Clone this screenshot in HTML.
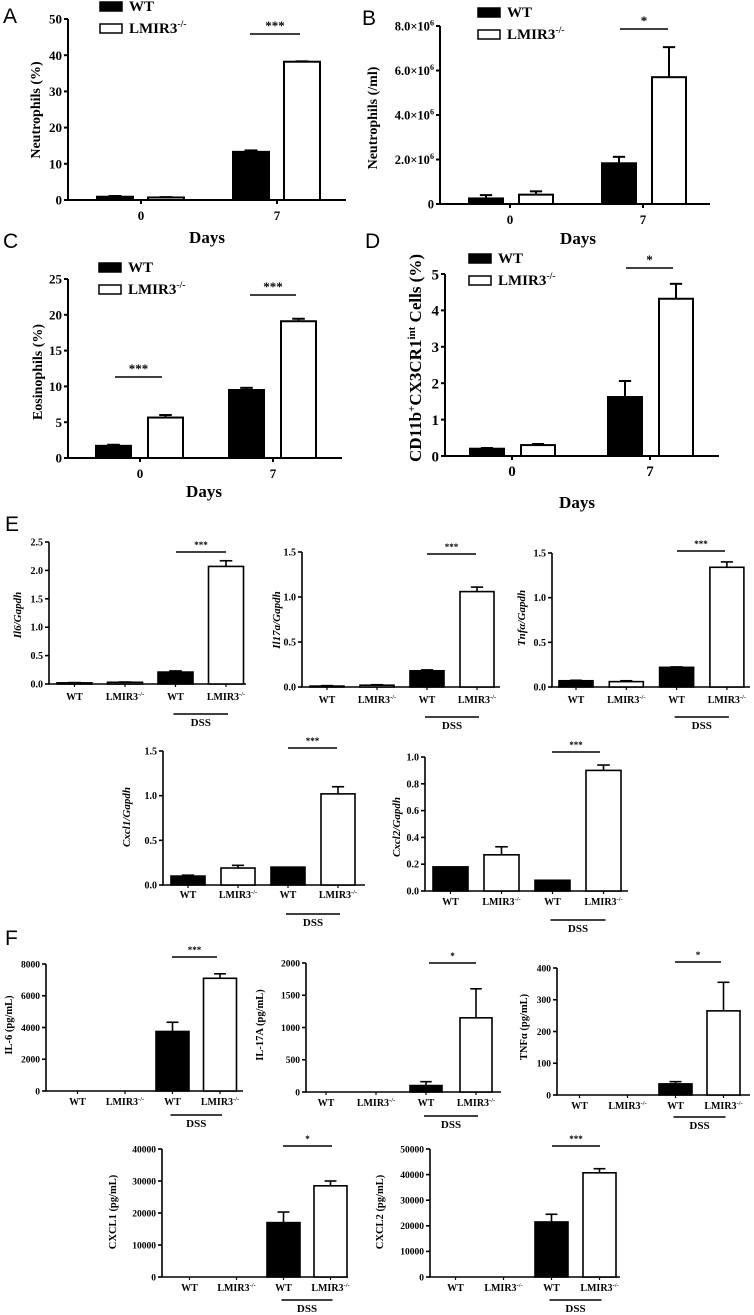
<!DOCTYPE html>
<html><head><meta charset="utf-8"><style>
html,body{margin:0;padding:0;background:#fff;}
svg{display:block;}
text{font-family:"Liberation Serif",serif;font-weight:bold;fill:#000;}
.pl{font-family:"Liberation Sans",sans-serif;font-weight:normal;font-size:21px;}
</style></head><body>
<svg id="fig" width="754" height="1315" viewBox="0 0 754 1315" xmlns="http://www.w3.org/2000/svg">
<text class="pl" x="3" y="23">A</text>
<text class="pl" x="362" y="25">B</text>
<text class="pl" x="3" y="248">C</text>
<text class="pl" x="365" y="248">D</text>
<text class="pl" x="5" y="531">E</text>
<text class="pl" x="5" y="945">F</text>
</svg>
<script>
// ---- data ----
const catsDays = ["0","7"];
const catsGeno = ["WT","LMIR3","WT","LMIR3"];
const ticksA = [0,10,20,30,40,50];
const valsA = [0.9,0.7,13.3,38.2];
const errsA = [1.1,0.8,13.7,38.3];
const ticksB = [0,2e6,4e6,6e6,8e6];
const tickLabelsB = ["0","2.0×10","4.0×10","6.0×10","8.0×10"];
const valsB = [0.25e6,0.42e6,1.83e6,5.7e6];
const errsB = [0.4e6,0.57e6,2.12e6,7.05e6];
const ticksC = [0,5,10,15,20,25];
const valsC = [1.7,5.65,9.5,19.1];
const errsC = [1.85,6.0,9.8,19.45];
const ticksD = [0,1,2,3,4,5];
const valsD = [0.2,0.3,1.62,4.32];
const errsD = [0.22,0.33,2.06,4.73];
const ticksE1 = [0,0.5,1.0,1.5,2.0,2.5];
const valsE1 = [0.02,0.03,0.21,2.07];
const errsE1 = [0.025,0.035,0.23,2.17];
const ticksE2 = [0,0.5,1.0,1.5];
const valsE2 = [0.01,0.02,0.18,1.06];
const errsE2 = [0.015,0.025,0.19,1.11];
const ticksE3 = [0,0.5,1.0,1.5];
const valsE3 = [0.07,0.06,0.22,1.34];
const errsE3 = [0.075,0.07,0.225,1.40];
const ticksE4 = [0,0.5,1.0,1.5];
const valsE4 = [0.1,0.19,0.2,1.02];
const errsE4 = [0.11,0.22,0.2,1.10];
const ticksE5 = [0,0.2,0.4,0.6,0.8,1.0];
const valsE5 = [0.18,0.27,0.08,0.90];
const errsE5 = [0.18,0.33,0.08,0.94];
const ticksF1 = [0,2000,4000,6000,8000];
const valsF1 = [0,0,3750,7100];
const errsF1 = [0,0,4330,7380];
const ticksF2 = [0,500,1000,1500,2000];
const valsF2 = [0,0,100,1150];
const errsF2 = [0,0,160,1600];
const ticksF3 = [0,100,200,300,400];
const valsF3 = [0,0,35,265];
const errsF3 = [0,0,42,355];
const ticksF4 = [0,10000,20000,30000,40000];
const valsF4 = [0,0,17000,28500];
const errsF4 = [0,0,20300,30000];
const ticksF5 = [0,10000,20000,30000,40000,50000];
const valsF5 = [0,0,21500,40700];
const errsF5 = [0,0,24500,42300];

// ---- drawing ----
const NS = "http://www.w3.org/2000/svg";
const svg = document.getElementById("fig");
function mk(tag, attrs, parent){
  const e = document.createElementNS(NS, tag);
  for (const k in attrs) e.setAttribute(k, attrs[k]);
  (parent||svg).appendChild(e);
  return e;
}
function sup(t, base, s, fs){
  t.appendChild(document.createTextNode(base));
  const ts = document.createElementNS(NS,"tspan");
  ts.setAttribute("dy", -fs*0.4);
  ts.setAttribute("font-size", fs*0.65);
  ts.textContent = s;
  t.appendChild(ts);
}
function panel(p){
  const g = mk("g", {});
  
  
  const yS = v => p.y0 - (v/p.max)*(p.y0-p.yTop);
  const sw = p.sw || 1.6;
  const xfs = p.xfs || p.tfs;
  const ya = mk("line",{x1:p.ax,y1:p.yTop,x2:p.ax,y2:p.y0,stroke:"#000","stroke-width":sw},g);
  
  
  const xa = mk("line",{x1:p.ax-1,y1:p.y0,x2:p.xEnd,y2:p.y0,stroke:"#000","stroke-width":sw},g);
  
  
  p.ticks.forEach((t,i)=>{
    const y = yS(t);
    mk("line",{x1:p.ax-4,y1:y,x2:p.ax,y2:y,stroke:"#000","stroke-width":sw},g);
    const tx = mk("text",{x:p.ax-6,y:y+p.tfs*0.35,"text-anchor":"end","font-size":p.tfs},g);
    
    
    if (p.tickLabels) { sup(tx, p.tickLabels[i], i===0?"":"6", p.tfs); }
    else tx.textContent = p.fmt ? p.fmt(t) : String(t);
  });
  p.vals.forEach((v,i)=>{
    const x = p.bx(i), y = yS(v);
    const r = mk("rect",{x:x,y:y,width:p.bw,height:Math.max(0,p.y0-y),fill:(i%2?"#fff":"#000"),stroke:"#000","stroke-width":sw},g);
    
    
    const e = p.errs[i];
    if (e > v) {
      const cx = x + p.bw/2, ye = yS(e);
      mk("line",{x1:cx,y1:y,x2:cx,y2:ye,stroke:"#000","stroke-width":sw},g);
      const cap = mk("line",{x1:cx-p.bw*0.18,y1:ye,x2:cx+p.bw*0.18,y2:ye,stroke:"#000","stroke-width":sw},g);
      
      
    }
  });
  if (p.days) {
    catsDays.forEach((c,i)=>{
      const cx = p.gx0 + i*p.gstep;
      mk("line",{x1:cx,y1:p.y0,x2:cx,y2:p.y0+4,stroke:"#000","stroke-width":sw},g);
      const t = mk("text",{x:cx,y:p.y0+20,"text-anchor":"middle","font-size":xfs},g);
      
      
      t.textContent = c;
    });
  } else {
    catsGeno.forEach((c,i)=>{
      const cx = p.bx(i)+p.bw/2;
      mk("line",{x1:cx,y1:p.y0,x2:cx,y2:p.y0+3,stroke:"#000","stroke-width":1.2},g);
      const t = mk("text",{x:cx,y:p.ly+3,"text-anchor":"middle","font-size":10},g);
      
      
      if (c==="LMIR3") sup(t,"LMIR3","-/-",10); else t.textContent = c;
    });
    const x1 = p.bx(2)+p.bw/2, x2 = p.bx(3)+p.bw/2;
    const dl = mk("line",{x1:x1-2,y1:p.dssY,x2:x2+2,y2:p.dssY,stroke:"#000","stroke-width":1.6},g);
    
    
    const dt = mk("text",{x:(x1+x2)/2,y:p.dssY+12,"text-anchor":"middle","font-size":11},g);
    
    
    dt.textContent = "DSS";
  }
  (p.sig||[]).forEach(s=>{
    const l = mk("line",{x1:s[0],y1:s[2],x2:s[1],y2:s[2],stroke:"#000","stroke-width":1.6},g);
    
    
    const t = mk("text",{x:(s[0]+s[1])/2,y:s[2]-4,"text-anchor":"middle","font-size":p.days?13:9},g);
    
    
    t.textContent = s[3];
  });
  const yt = mk("text",{x:0,y:0,"text-anchor":"middle","font-size":p.yfs,transform:"translate("+p.ytx+","+p.yty+") rotate(-90)"},g);
  
  
  if (p.italic) yt.setAttribute("font-style","italic");
  if (p.ytHTML) p.ytHTML(yt); else yt.textContent = p.ytitle;
  if (p.days) {
    const d = mk("text",{x:p.daysX,y:p.daysY,"text-anchor":"middle","font-size":17},g);
    
    
    d.textContent = "Days";
    const lr1 = mk("rect",{x:p.legX,y:p.legY,width:22,height:9,fill:"#000",stroke:"#000","stroke-width":1.5},g);
    
    
    const lt1 = mk("text",{x:p.legX+29,y:p.legY+9,"font-size":15},g);
    
    
    lt1.textContent = "WT";
    const lr2 = mk("rect",{x:p.legX,y:p.legY+22,width:22,height:9,fill:"#fff",stroke:"#000","stroke-width":1.5},g);
    
    
    const lt2 = mk("text",{x:p.legX+29,y:p.legY+31,"font-size":15},g);
    
    
    sup(lt2,"LMIR3","-/-",15);
  }
}
const dayBx = (gx0,gstep,o1,o2) => i => gx0 + Math.floor(i/2)*gstep + (i%2 ? o2 : o1);
const f1 = v => v.toFixed(1);

panel({name:"panel-a-neutrophils-pct",key:"a",days:true,ax:68,y0:200,yTop:19,max:50,ticks:ticksA,xEnd:346,vals:valsA,errs:errsA,
  gx0:141,gstep:136,bx:dayBx(141,136,-44,7),bw:36,tfs:13,yfs:14,ytx:40,yty:110,ytitle:"Neutrophils (%)",
  daysX:207,daysY:243,legX:100,legY:2,sig:[[250,300,34,"***"]],sw:2});
panel({name:"panel-b-neutrophils-per-ml",key:"b",days:true,ax:440,y0:204,yTop:26,max:8e6,ticks:ticksB,tickLabels:tickLabelsB,xEnd:710,vals:valsB,errs:errsB,
  gx0:510,gstep:133,bx:dayBx(510,133,-41,9),bw:34,tfs:12.5,xfs:13,yfs:14,ytx:377,yty:118,ytitle:"Neutrophils (/ml)",
  daysX:578,daysY:244,legX:478,legY:8,sig:[[620,668,29,"*"]],sw:2});
panel({name:"panel-c-eosinophils",key:"c",days:true,ax:68,y0:458,yTop:279,max:25,ticks:ticksC,xEnd:342,vals:valsC,errs:errsC,
  gx0:140,gstep:133,bx:dayBx(140,133,-44,8),bw:35,tfs:13,yfs:14,ytx:42,yty:372,ytitle:"Eosinophils (%)",
  daysX:204,daysY:497,legX:99,legY:263,sig:[[115,162,377,"***"],[250,296,295,"***"]],sw:2});
panel({name:"panel-d-cd11b-cells",key:"d",days:true,ax:445,y0:456,yTop:274,max:5,ticks:ticksD,xEnd:719,vals:valsD,errs:errsD,
  gx0:512,gstep:138,bx:dayBx(512,138,-42,9),bw:34,tfs:15,yfs:17,ytx:421,yty:358,
  ytHTML:t=>{t.appendChild(document.createTextNode("CD11b"));const a=document.createElementNS(NS,"tspan");a.setAttribute("dy",-6);a.setAttribute("font-size",11);a.textContent="+";t.appendChild(a);const b=document.createElementNS(NS,"tspan");b.setAttribute("dy",6);b.textContent="CX3CR1";t.appendChild(b);const c=document.createElementNS(NS,"tspan");c.setAttribute("dy",-6);c.setAttribute("font-size",11);c.textContent="int";t.appendChild(c);const d=document.createElementNS(NS,"tspan");d.setAttribute("dy",6);d.textContent=" Cells (%)";t.appendChild(d);},
  daysX:577,daysY:508,legX:469,legY:254,sig:[[626,673,268,"*"]],sw:2});

panel({name:"panel-e-il6",key:"e1",ax:49,y0:684,yTop:542,max:2.5,ticks:ticksE1,fmt:f1,xEnd:246,vals:valsE1,errs:errsE1,
  bx:i=>57+i*50.5,bw:35,tfs:10,yfs:11,italic:true,ytx:21,yty:615,ytitle:"Il6/Gapdh",ly:697,dssY:714,sig:[[176,226,552,"***"]]});
panel({name:"panel-e-il17a",key:"e2",ax:302,y0:687,yTop:552,max:1.5,ticks:ticksE2,fmt:f1,xEnd:500,vals:valsE2,errs:errsE2,
  bx:i=>310+i*50,bw:34,tfs:10,yfs:11,italic:true,ytx:280,yty:620,ytitle:"Il17a/Gapdh",ly:700,dssY:717,sig:[[427,476,554,"***"]]});
panel({name:"panel-e-tnfa",key:"e3",ax:552,y0:687,yTop:553,max:1.5,ticks:ticksE3,fmt:f1,xEnd:750,vals:valsE3,errs:errsE3,
  bx:i=>559+i*50.3,bw:34,tfs:10,yfs:11,italic:true,ytx:525,yty:618,ytitle:"Tnfα/Gapdh",ly:700,dssY:717,sig:[[677,725,551,"***"]]});
panel({name:"panel-e-cxcl1",key:"e4",ax:163,y0:885,yTop:751,max:1.5,ticks:ticksE4,fmt:f1,xEnd:365,vals:valsE4,errs:errsE4,
  bx:i=>171+i*50,bw:34,tfs:10,yfs:11,italic:true,ytx:130,yty:817,ytitle:"Cxcl1/Gapdh",ly:895,dssY:914,sig:[[288,337,748,"***"]]});
panel({name:"panel-e-cxcl2",key:"e5",ax:425,y0:891,yTop:757,max:1.0,ticks:ticksE5,fmt:f1,xEnd:628,vals:valsE5,errs:errsE5,
  bx:i=>433+i*51,bw:35,tfs:10,yfs:11,italic:true,ytx:400,yty:827,ytitle:"Cxcl2/Gapdh",ly:902,dssY:920,sig:[[552,600,752,"***"]]});

panel({name:"panel-f-il6",key:"f1",ax:46,y0:1091,yTop:964,max:8000,ticks:ticksF1,xEnd:243,vals:valsF1,errs:errsF1,
  bx:i=>61+i*47.5,bw:33,tfs:9.5,yfs:10.5,ytx:12,yty:1025,ytitle:"IL-6 (pg/mL)",ly:1102,dssY:1115,sig:[[172,217,957,"***"]]});
panel({name:"panel-f-il17a",key:"f2",ax:306,y0:1092,yTop:963,max:2000,ticks:ticksF2,xEnd:501,vals:valsF2,errs:errsF2,
  bx:i=>310+i*50,bw:32,tfs:9.5,yfs:10.5,ytx:263,yty:1025,ytitle:"IL-17A (pg/mL)",ly:1103,dssY:1116,sig:[[429,476,963,"*"]]});
panel({name:"panel-f-tnfa",key:"f3",ax:557,y0:1095,yTop:968,max:400,ticks:ticksF3,xEnd:750,vals:valsF3,errs:errsF3,
  bx:i=>563+i*48,bw:33,tfs:9.5,yfs:10.5,ytx:527,yty:1027,ytitle:"TNFα (pg/mL)",ly:1106,dssY:1117,sig:[[675,721,962,"*"]]});
panel({name:"panel-f-cxcl1",key:"f4",ax:162,y0:1277,yTop:1149,max:40000,ticks:ticksF4,xEnd:348,vals:valsF4,errs:errsF4,
  bx:i=>173+i*47,bw:33,tfs:9.5,yfs:10.5,ytx:116,yty:1212,ytitle:"CXCL1 (pg/mL)",ly:1288,dssY:1300,sig:[[283,332,1146,"*"]]});
panel({name:"panel-f-cxcl2",key:"f5",ax:430,y0:1277,yTop:1149,max:50000,ticks:ticksF5,xEnd:620,vals:valsF5,errs:errsF5,
  bx:i=>439+i*48,bw:33,tfs:9.5,yfs:10.5,ytx:383,yty:1212,ytitle:"CXCL2 (pg/mL)",ly:1288,dssY:1300,sig:[[552,600,1146,"***"]]});
</script>
</body></html>
